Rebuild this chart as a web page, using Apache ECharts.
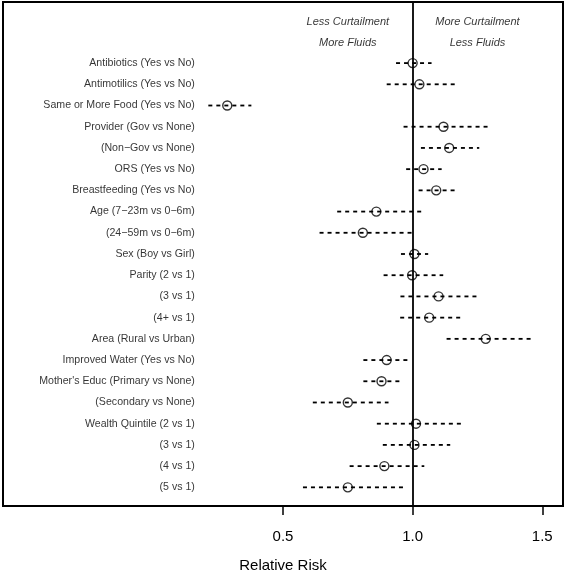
<!DOCTYPE html>
<html>
<head>
<meta charset="utf-8">
<script src="https://cdn.jsdelivr.net/npm/echarts@6/dist/echarts.min.js"></script>
<style>
html,body{margin:0;padding:0;background:#fff;}
#chart{width:567px;height:572px;}
</style>
</head>
<body>
<div id="chart"></div>
<script>
// ---- data ----
const categories = [
  'Antibiotics (Yes vs No)',
  'Antimotilics (Yes vs No)',
  'Same or More Food (Yes vs No)',
  'Provider (Gov vs None)',
  '(Non\u2212Gov vs None)',
  'ORS (Yes vs No)',
  'Breastfeeding (Yes vs No)',
  'Age (7\u221223m vs 0\u22126m)',
  '(24\u221259m vs 0\u22126m)',
  'Sex (Boy vs Girl)',
  'Parity (2 vs 1)',
  '(3 vs 1)',
  '(4+ vs 1)',
  'Area (Rural vs Urban)',
  'Improved Water (Yes vs No)',
  "Mother's Educ (Primary vs None)",
  '(Secondary vs None)',
  'Wealth Quintile (2 vs 1)',
  '(3 vs 1)',
  '(4 vs 1)',
  '(5 vs 1)'
];
const estimates = [1.000, 1.026, 0.285, 1.119, 1.141, 1.042, 1.091, 0.860, 0.808, 1.007, 0.998, 1.100, 1.064, 1.282, 0.900, 0.880, 0.750, 1.013, 1.007, 0.891, 0.750];
const lower     = [0.936, 0.900, 0.212, 0.965, 1.032, 0.975, 1.023, 0.709, 0.641, 0.955, 0.888, 0.953, 0.952, 1.131, 0.810, 0.810, 0.615, 0.862, 0.885, 0.757, 0.577];
const upper     = [1.073, 1.167, 0.378, 1.292, 1.257, 1.112, 1.164, 1.038, 0.998, 1.060, 1.118, 1.250, 1.186, 1.455, 0.985, 0.952, 0.907, 1.192, 1.145, 1.045, 0.968];
const xTicks = [0.5, 1.0, 1.5];
const headerLeft = ['Less Curtailment', 'More Fluids'];
const headerRight = ['More Curtailment', 'Less Fluids'];
const headerX = [0.75, 1.25];
const refValue = 1.0;

// ---- layout constants ----
const N = categories.length;
const rowOf = i => N - i;            // top row = N
const LABEL_X = 0.16;
const FONT = "'Liberation Sans', Arial, Helvetica, sans-serif";

const ciData = categories.map((c, i) => [lower[i], upper[i], rowOf(i)]);
const ptData = categories.map((c, i) => [estimates[i], rowOf(i)]);
const labelData = categories.map((c, i) => ({ value: [LABEL_X, rowOf(i)], name: c }));
const headerData = [];
headerLeft.forEach((t, k) => headerData.push({ value: [headerX[0], N + 2 - k], name: t }));
headerRight.forEach((t, k) => headerData.push({ value: [headerX[1], N + 2 - k], name: t }));

const chart = echarts.init(document.getElementById('chart'), null, { renderer: 'canvas' });
chart.setOption({
  animation: false,
  backgroundColor: '#fff',
  grid: { left: 3, right: 4, top: 2, bottom: 66, outerBoundsMode: 'none', containLabel: false, show: true, borderColor: '#000', borderWidth: 2, backgroundColor: 'transparent' },
  xAxis: {
    type: 'value', min: -0.58, max: 1.58,
    splitLine: { show: false },
    axisLine: { show: false },
    axisTick: { show: true, customValues: xTicks, length: 9, lineStyle: { color: '#000', width: 1.5 } },
    axisLabel: { customValues: xTicks, formatter: v => v.toFixed(1), color: '#000', fontSize: 15, fontFamily: FONT, margin: 23 },
    name: 'Relative Risk', nameLocation: 'middle', nameGap: 52,
    nameTextStyle: { color: '#000', fontSize: 15, fontFamily: FONT }
  },
  yAxis: {
    type: 'value', min: 0.12, max: 23.88,
    show: false
  },
  series: [
    {
      type: 'custom',
      data: ciData,
      encode: { x: [0, 1], y: 2 },
      renderItem: (params, api) => {
        const a = api.coord([api.value(0), api.value(2)]);
        const b = api.coord([api.value(1), api.value(2)]);
        return {
          type: 'line',
          shape: { x1: a[0], y1: a[1], x2: b[0], y2: b[1] },
          style: { stroke: '#000', lineWidth: 1.8, lineDash: [4, 4] }
        };
      },
      markLine: {
        silent: true, symbol: 'none', label: { show: false },
        lineStyle: { color: '#000', width: 1.8, type: 'solid' },
        data: [{ xAxis: refValue }]
      },
      z: 2
    },
    {
      type: 'scatter',
      data: ptData,
      symbol: 'circle', symbolSize: 9,
      itemStyle: { color: 'rgba(0,0,0,0)', borderColor: '#000', borderWidth: 1.4 },
      z: 3
    },
    {
      type: 'scatter',
      data: labelData,
      symbolSize: 0,
      label: { show: true, position: 'left', distance: 0, formatter: p => p.name, color: '#000', fontSize: 10.6, fontFamily: FONT },
      z: 4
    },
    {
      type: 'scatter',
      data: headerData,
      symbolSize: 0,
      label: { show: true, position: 'inside', offset: [0, 1], formatter: p => p.name, color: '#000', fontSize: 11, fontStyle: 'italic', fontFamily: FONT },
      z: 4
    }
  ]
});
</script>
</body>
</html>
